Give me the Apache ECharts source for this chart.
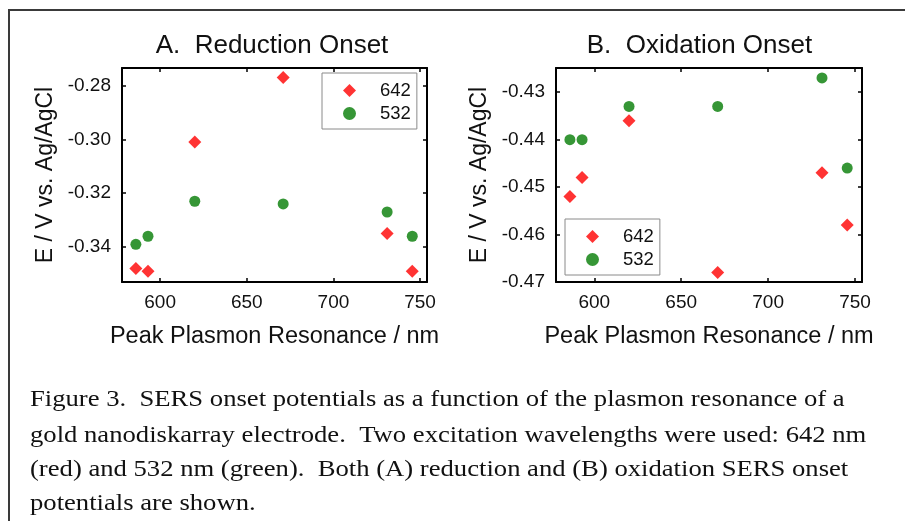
<!DOCTYPE html>
<html>
<head>
<meta charset="utf-8">
<script src="https://cdn.jsdelivr.net/npm/echarts@6/dist/echarts.min.js"></script>
<style>html,body{margin:0;padding:0;background:#fff}#c{width:905px;height:521px}</style>
</head>
<body>
<div id="c"></div>
<script>
// ---- data ----
const seriesNames = ['642', '532'];
const wavelengthNm = [586, 593, 620, 671, 731, 745.5];
const reduction642 = [-0.348, -0.349, -0.301, -0.277, -0.335, -0.349];
const reduction532 = [-0.339, -0.336, -0.323, -0.324, -0.327, -0.336];
const oxidation642 = [-0.452, -0.448, -0.436, -0.468, -0.447, -0.458];
const oxidation532 = [-0.440, -0.440, -0.433, -0.433, -0.427, -0.446];
const xTicks = [600, 650, 700, 750];
const reductionTicks = [-0.34, -0.32, -0.30, -0.28];
const oxidationTicks = [-0.47, -0.46, -0.45, -0.44, -0.43];
const titles = ['A.  Reduction Onset', 'B.  Oxidation Onset'];
const xName = 'Peak Plasmon Resonance / nm';
const yName = 'E / V vs. Ag/AgCl';
const captionLines = [
  'Figure 3.  SERS onset potentials as a function of the plasmon resonance of a',
  'gold nanodiskarray electrode.  Two excitation wavelengths were used: 642 nm',
  '(red) and 532 nm (green).  Both (A) reduction and (B) oxidation SERS onset',
  'potentials are shown.'
];

const sans = '"Liberation Sans", Arial, sans-serif';
const serif = '"Liberation Serif", "Times New Roman", serif';
const RED = '#ff0000', GREEN = '#047c04';

function pair(arr) { return wavelengthNm.map((x, i) => [x, arr[i]]); }

function xAxis(gridIndex, position) {
  const main = position === 'bottom';
  return {
    type: 'value', gridIndex, position, min: 578, max: 754,
    axisLine: { show: true, onZero: false, lineStyle: { color: '#000', width: 2 } },
    axisTick: { show: true, inside: true, length: 4, lineStyle: { color: '#000', width: 1.5 }, customValues: xTicks },
    axisLabel: { show: main, customValues: xTicks, margin: 11, color: '#111', fontFamily: sans, fontSize: 19 },
    splitLine: { show: false },
    name: main ? xName : '', nameLocation: 'middle', nameGap: 43,
    nameTextStyle: { color: '#111', fontFamily: sans, fontSize: 23.5 }
  };
}
function yAxis(gridIndex, position, min, max, ticks) {
  const main = position === 'left';
  return {
    type: 'value', gridIndex, position, min, max,
    axisLine: { show: true, onZero: false, lineStyle: { color: '#000', width: 2 } },
    axisTick: { show: true, inside: true, length: 4, lineStyle: { color: '#000', width: 1.5 }, customValues: ticks },
    axisLabel: { show: main, customValues: ticks, margin: 11, color: '#111', fontFamily: sans, fontSize: 19,
      formatter: v => v.toFixed(2) },
    splitLine: { show: false },
    name: main ? yName : '', nameLocation: 'middle', nameGap: 65, nameRotate: 90,
    nameTextStyle: { color: '#111', fontFamily: sans, fontSize: 23 }
  };
}
function legend(left, top) {
  return {
    data: seriesNames, orient: 'vertical', left, top,
    padding: [8, 6, 6, 21], itemGap: 4, itemWidth: 13, itemHeight: 13,
    borderColor: '#8a8a8a', borderWidth: 1, backgroundColor: '#fff',
    textStyle: { color: '#111', fontFamily: sans, fontSize: 18.5, padding: [0, 0, 0, 19], lineHeight: 18 },
    selectedMode: false
  };
}
function scatter(name, xi, data) {
  const red = name === '642';
  return {
    type: 'scatter', name, xAxisIndex: xi, yAxisIndex: xi, data,
    symbol: red ? 'diamond' : 'circle', symbolSize: red ? 13 : 11,
    itemStyle: { color: red ? RED : GREEN }, z: 3
  };
}

const chart = echarts.init(document.getElementById('c'), null, { renderer: 'canvas' });
chart.setOption({
  animation: false,
  backgroundColor: '#fff',
  title: [
    { text: titles[0], left: 267, top: 28, textAlign: 'center', textStyle: { color: '#111', fontFamily: sans, fontSize: 26, fontWeight: 'normal' } },
    { text: titles[1], left: 694.5, top: 28, textAlign: 'center', textStyle: { color: '#111', fontFamily: sans, fontSize: 26, fontWeight: 'normal' } }
  ],
  grid: [
    { left: 122, top: 68, width: 305, height: 214, containLabel: false, outerBoundsMode: 'none' },
    { left: 556, top: 68, width: 306, height: 214, containLabel: false, outerBoundsMode: 'none' }
  ],
  xAxis: [xAxis(0, 'bottom'), xAxis(1, 'bottom'), xAxis(0, 'top'), xAxis(1, 'top')],
  yAxis: [
    yAxis(0, 'left', -0.353, -0.2735, reductionTicks),
    yAxis(1, 'left', -0.47, -0.4249, oxidationTicks),
    yAxis(0, 'right', -0.353, -0.2735, reductionTicks),
    yAxis(1, 'right', -0.47, -0.4249, oxidationTicks)
  ],
  legend: [legend(322, 73), legend(565, 219)],
  series: [
    scatter('642', 0, pair(reduction642)),
    scatter('532', 0, pair(reduction532)),
    scatter('642', 1, pair(oxidation642)),
    scatter('532', 1, pair(oxidation532))
  ],
  graphic: [
    { type: 'polyline', shape: { points: [[9, 530], [9, 10], [910, 10]] }, style: { stroke: '#3a3a3a', lineWidth: 2, fill: null }, silent: true },
    ...captionLines.map((t, i) => ({
      type: 'text', x: 30, y: [388, 423.5, 458, 492][i], scaleX: 1.11,
      style: { text: t, font: '24px ' + serif, fill: '#111' }, silent: true
    }))
  ]
});
</script>
</body>
</html>
